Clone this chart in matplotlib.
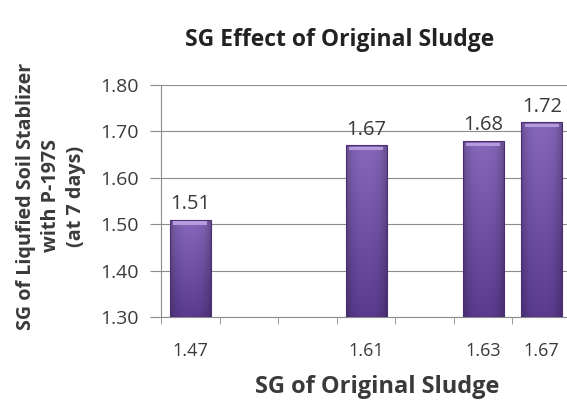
import numpy as np
import matplotlib.pyplot as plt
from matplotlib.colors import to_rgb

# category slots along the x axis (empty ones have no bar)
categories = ["1.47", "", "", "1.61", "", "1.63", "1.67"]
sg_values = [1.51, None, None, 1.67, None, 1.68, 1.72]
y_ticks = [1.30, 1.40, 1.50, 1.60, 1.70, 1.80]

plt.rcParams['font.family'] = ['Open Sans', 'DejaVu Sans']
txt = "#3a3a3a"

fig = plt.figure(figsize=(5.67, 4.03), dpi=100)
ax = fig.add_axes([161 / 567, 1 - 317 / 403, 410 / 567, 232 / 403])

# shaded fill for the bars: lighter at the top, darker toward the sides
top_c = np.array(to_rgb("#8667ba"))
bot_c = np.array(to_rgb("#5a3b8e"))
t = np.linspace(0, 1, 64)[:, None, None]
shade = bot_c * (1 - t) + top_c * t
u = np.linspace(-1, 1, 32)[None, :, None]
shade = shade * (1 - 0.22 * np.abs(u) ** 3)

x = np.arange(len(categories))
for xi, v in zip(x, sg_values):
    if v is None:
        continue
    bars = ax.bar(xi, v - 1.30, bottom=1.30, width=0.70, color="none",
                  edgecolor="#4a3072", linewidth=0.8, zorder=4)
    im = ax.imshow(shade, extent=[xi - 0.35, xi + 0.35, 1.30, v], origin="lower",
                   aspect="auto", zorder=3, interpolation="bilinear")
    im.set_clip_path(bars[0])
    # light bevel on the top of the bar
    ax.bar(xi, 0.007, bottom=v - 0.011, width=0.58, color="#b49bdc",
           linewidth=0, zorder=5)
    ax.text(xi, v + 0.012, "%.2f" % v, ha="center", va="bottom",
            fontsize=14.5, color=txt, zorder=6)

ax.set_xlim(-0.5, len(categories) - 0.5)
ax.set_ylim(1.30, 1.80)
ax.set_yticks(y_ticks)
ax.set_yticklabels(["%.2f" % v for v in y_ticks], fontsize=14, color=txt)
ax.yaxis.grid(True, color="#8c8c8c", linewidth=0.8, zorder=0)

ax.set_xticks(x)
ax.set_xticklabels(categories, fontsize=13, color=txt)
ax.tick_params(axis="x", length=0, pad=18)
ax.set_xticks(np.arange(len(categories) + 1) - 0.5, minor=True)
ax.tick_params(axis="x", which="minor", length=5, color="#8c8c8c", direction="out")
ax.tick_params(axis="y", length=8, color="#8c8c8c", direction="out", pad=8)

for s in ["top", "right"]:
    ax.spines[s].set_visible(False)
ax.spines["left"].set_color("#8c8c8c")
ax.spines["bottom"].set_color("#8c8c8c")

ax.set_xlabel("SG of Original Sludge", fontsize=17, fontweight="bold",
              color=txt, va="center")
ax.xaxis.set_label_coords((377 - 161) / 410, -(387 - 317) / 232)
ax.set_ylabel("SG of Liqufied Soil Stablizer\nwith P-197S\n(at 7 days)",
              fontsize=14.2, fontweight="bold", color=txt, va="center",
              linespacing=1.3)
ax.yaxis.set_label_coords(-(161 - 51) / 410, (317 - 196) / 232)
fig.text(340 / 567, 1 - 40 / 403, "SG Effect of Original Sludge", ha="center",
         va="center", fontsize=16.5, fontweight="bold", color="#222222")

fig.savefig("out.png", dpi=100)
